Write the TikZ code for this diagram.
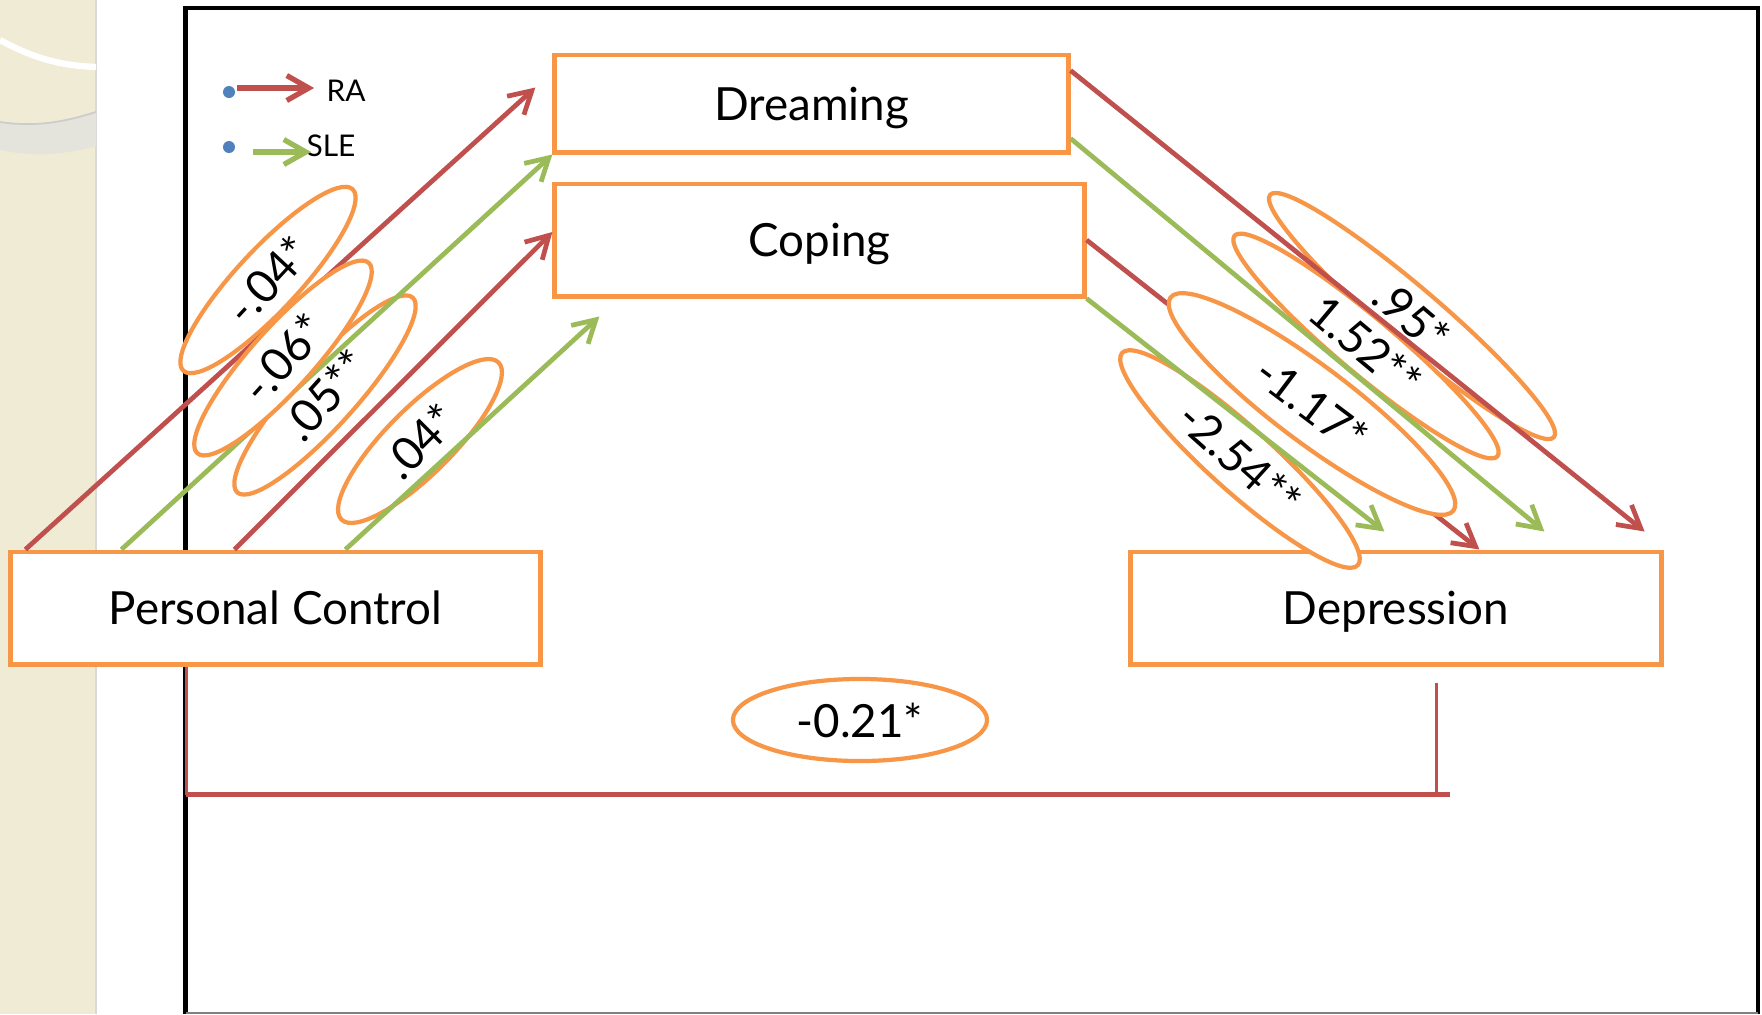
\documentclass[tikz,border=0pt]{standalone}
\usepackage{fontspec}
\setmainfont{Lato}
\usetikzlibrary{arrows.meta,calc,shapes.geometric}
\definecolor{pathRed}{HTML}{C0504D}
\definecolor{pathGreen}{HTML}{9BBB59}
\definecolor{boxOrange}{HTML}{F79646}
\definecolor{bulletBlue}{HTML}{4F81BD}
\definecolor{stripBeige}{HTML}{EFEBD5}
\definecolor{bandGrey}{HTML}{E4E3DC}

\begin{document}
\begin{tikzpicture}[x=0.01cm,y=-0.01cm,
    varbox/.style={draw=boxOrange,line width=1.4pt,fill=white,inner sep=0pt,
                   text depth=0pt,font=\fontsize{13}{15}\selectfont},
    coef/.style={ellipse,draw=boxOrange,line width=1.2pt,fill=white,inner sep=-1pt,
                 font=\fontsize{13}{15}\selectfont},
    ra/.style={draw=pathRed,line width=1.35pt,-{Straight Barb[length=2.2mm,width=2.5mm]}},
    sle/.style={draw=pathGreen,line width=1.35pt,-{Straight Barb[length=2.2mm,width=2.5mm]}},
    keytext/.style={font=\fontsize{8.5}{10}\selectfont}]
  \useasboundingbox (0,0) rectangle (1762,1014);
  \fill[white] (0,0) rectangle (1762,1014);

  % slide strip
  \fill[stripBeige] (0,0) rectangle (96,1014);
  \draw[black!15,line width=0.6pt] (96,0) -- (96,1014);
  \draw[white,line width=1.8pt] (0,40) .. controls (40,62) and (70,66) .. (96,67);
  \fill[bandGrey] (0,122) .. controls (40,128) and (70,120) .. (96,112) -- (96,146)
                  .. controls (60,156) and (30,156) .. (0,150) -- cycle;
  \draw[black!20,line width=0.5pt] (0,122) .. controls (40,128) and (70,120) .. (96,112);

  % frame
  \draw[line width=1.4pt] (185.5,1014) -- (185.5,8) -- (1758,8) -- (1758,1014);
  \draw[gray,line width=0.5pt] (185.5,1013) -- (1758,1013);

  \node[varbox,minimum width=5.29cm,minimum height=1.12cm] (pc) at (275.5,608) {Personal Control};
  \node[varbox,minimum width=5.30cm,minimum height=1.12cm] (dep) at (1396,608) {Depression};
  \node[varbox,minimum width=5.13cm,minimum height=0.97cm] (dream) at (811.5,103.5) {Dreaming};
  \node[varbox,minimum width=5.29cm,minimum height=1.12cm] (cope) at (819.5,240) {Coping};

  \node[coef,minimum width=2.48cm,minimum height=0.62cm,rotate=47] (pcDreamRA) at (268,280) {-.04*};
  \node[coef,minimum width=2.62cm,minimum height=0.62cm,rotate=48] (pcCopeRA) at (325,395) {.05**};
  \node[coef,minimum width=2.22cm,minimum height=0.66cm,rotate=45] (pcCopeSLE) at (420,441) {.04*};
  \node[coef,minimum width=3.73cm,minimum height=0.56cm,rotate=-40.5] (dreamDepRA) at (1412,316) {.95*};
  \node[coef,minimum width=3.43cm,minimum height=0.56cm,rotate=-40] (dreamDepSLE) at (1366,346) {1.52**};
  \node[coef,minimum width=3.17cm,minimum height=0.64cm,rotate=-42] (copeDepSLE) at (1240,459) {-2.54**};
  \node[coef,minimum width=2.54cm,minimum height=0.82cm] (pcDep) at (860,720) {-0.21*};

  \draw[ra] ($(pc.north west)+(17,0)$) -- ($(dream.north west)+(-17,35)$);
  \draw[sle] ($(pc.north west)+(113,0)$) -- (dream.south west);
  \draw[ra] ($(pc.north west)+(226,0)$) -- ($(cope.west)+(0,-8)$);
  \draw[sle] ($(pc.north west)+(337,0)$) -- ($(cope.south west)+(47,18)$);
  \draw[ra] ($(dream.north east)+(0,18)$) -- ($(dep.north east)+(-19,-18)$);
  \draw[sle] ($(dream.south east)+(0,-16)$) -- ($(dep.north west)+(416,-18)$);
  \draw[ra] (cope.east) -- ($(dep.north west)+(351,0)$);
  \draw[sle] (cope.south east) -- ($(dep.north west)+(256,-18)$);

  \draw[pathRed,line width=0.9pt] ($(pc.south west)+(178,0)$) -- ++(0,128);
  \draw[pathRed,line width=1.5pt] ($(pc.south west)+(178,128)$) -- ++(1264,0);
  \draw[pathRed,line width=0.9pt] ($(dep.south west)+(308,16)$) -- ++(0,112);

  \node[coef,minimum width=2.56cm,minimum height=0.62cm,rotate=48] (pcDreamSLE) at (283,358) {-.06*};
  \node[coef,minimum width=3.54cm,minimum height=0.76cm,rotate=-37] (copeDepRA) at (1312,404) {-1.17*};

  % key
  \node[circle,fill=bulletBlue,inner sep=0pt,minimum size=0.12cm] (raDot) at (229,92) {};
  \node[circle,fill=bulletBlue,inner sep=0pt,minimum size=0.12cm] (sleDot) at (229,147) {};
  \node[keytext] (raKey) at (346,91) {RA};
  \node[keytext] (sleKey) at (331,146) {SLE};
  \draw[ra,line width=1.5pt] ($(raDot)+(8,-4)$) -- ($(raKey.west)+(0,-3)$);
  \draw[sle,line width=1.5pt] ($(sleDot)+(24,5)$) -- ($(sleKey.west)+(17,6)$);
\end{tikzpicture}
\end{document}
